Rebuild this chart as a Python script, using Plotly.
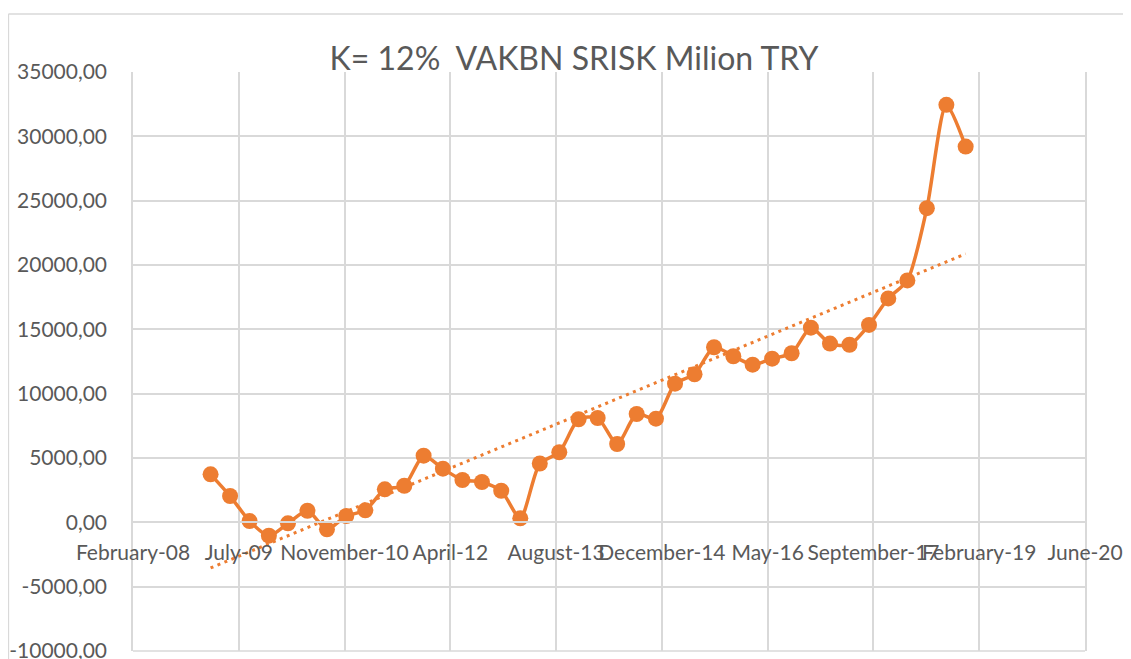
import numpy as np
import pandas as pd
import plotly.graph_objects as go

ORANGE = "#ED7D31"
GRID = "#D9D9D9"
TEXT = "#595959"

# quarterly SRISK, Mar-09 .. Dec-18 (million TRY)
quarters = pd.date_range("2009-03-01", periods=40, freq="3MS")
srisk = [3730, 2045, 100, -1040, -80, 900, -545, 490, 935, 2565,
         2845, 5180, 4170, 3290, 3135, 2455, 310, 4570, 5445, 8010,
         8110, 6090, 8420, 8055, 10780, 11510, 13610, 12910, 12255, 12720,
         13140, 15130, 13890, 13800, 15340, 17400, 18800, 24415, 32450, 29205]

# excel date axis: 10 major ticks, 499 days apart
x_tick_dates = pd.date_range("2008-02-29", periods=10, freq="499D")
x_tick_labels = ["February-08", "July-09", "November-10", "April-12", "August-13",
                 "December-14", "May-16", "September-17", "February-19", "June-20"]
y_tick_vals = [-10000, -5000, 0, 5000, 10000, 15000, 20000, 25000, 30000, 35000]
y_tick_labels = ["-10000,00", "-5000,00", "0,00", "5000,00", "10000,00",
                 "15000,00", "20000,00", "25000,00", "30000,00", "35000,00"]

# linear trendline (least squares on day number, like excel)
days = np.array((quarters - quarters[0]).days, dtype=float)
slope, icpt = np.polyfit(days, np.array(srisk, dtype=float), 1)
trend_x = [quarters[0], quarters[-1]]
trend_y = [icpt, icpt + slope * days[-1]]

fig = go.Figure()

fig.add_trace(
    go.Scatter(
        x=trend_x,
        y=trend_y,
        mode="lines",
        line={"color": ORANGE, "width": 3, "dash": "3px,4.5px"},
        hoverinfo="skip",
        showlegend=False,
    )
)
fig.add_trace(
    go.Scatter(
        x=quarters,
        y=srisk,
        mode="lines+markers",
        line={"color": ORANGE, "width": 3.5, "shape": "spline", "smoothing": 0.7},
        marker={"color": ORANGE, "size": 16},
        showlegend=False,
    )
)

y_min, y_max = y_tick_vals[0], y_tick_vals[-1]

# page body has an 8px margin, so the figure is 8px smaller than the window
W, H = 1123, 651

fig.update_layout(
    width=W,
    height=H,
    margin={"l": 125, "r": 43, "t": 64, "b": 8},
    paper_bgcolor="white",
    plot_bgcolor="white",
    font={"family": "Lato, sans-serif", "size": 21, "color": TEXT},
    title={
        "text": "K= 12%  VAKBN SRISK Milion TRY",
        "font": {"size": 32, "color": TEXT},
        "x": 566 / W,
        "xanchor": "center",
        "y": 1 - 51 / H,
        "yanchor": "middle",
    },
    xaxis={
        "type": "date",
        "range": [x_tick_dates[0], x_tick_dates[-1]],
        "tickvals": x_tick_dates,
        "ticktext": x_tick_labels,
        "tickangle": 0,
        "showgrid": True,
        "gridcolor": GRID,
        "gridwidth": 1.5,
        "showline": True,
        "linecolor": GRID,
        "linewidth": 1.5,
        "anchor": "free",
        # horizontal axis crosses at y = 0
        "position": (0 - y_min) / (y_max - y_min),
        "ticks": "",
        "ticklabelstandoff": 12,
        "zeroline": False,
    },
    yaxis={
        "range": [y_min, y_max],
        "tickvals": y_tick_vals,
        "ticktext": y_tick_labels,
        "showgrid": True,
        "gridcolor": GRID,
        "gridwidth": 1.5,
        "showline": True,
        "mirror": True,
        "linecolor": GRID,
        "linewidth": 1.5,
        "ticks": "",
        "ticklabelstandoff": 20,
        "ticklabeloverflow": "allow",
        "automargin": False,
        "zeroline": False,
    },
    shapes=[
        # outer chart frame (top and left edges visible)
        dict(type="line", xref="paper", yref="paper", x0=-125 / 955, x1=1.2,
             y0=1 + 58 / 579, y1=1 + 58 / 579, line={"color": GRID, "width": 1.5}),
        dict(type="line", xref="paper", yref="paper", x0=-125 / 955, x1=-125 / 955,
             y0=1 + 58 / 579, y1=-0.1, line={"color": GRID, "width": 1.5}),
        # bottom edge of the plot area
        dict(type="line", xref="paper", yref="paper", x0=0, x1=1, y0=0, y1=0,
             line={"color": GRID, "width": 1.5}, layer="below"),
    ],
)

fig.write_html("out.html")
